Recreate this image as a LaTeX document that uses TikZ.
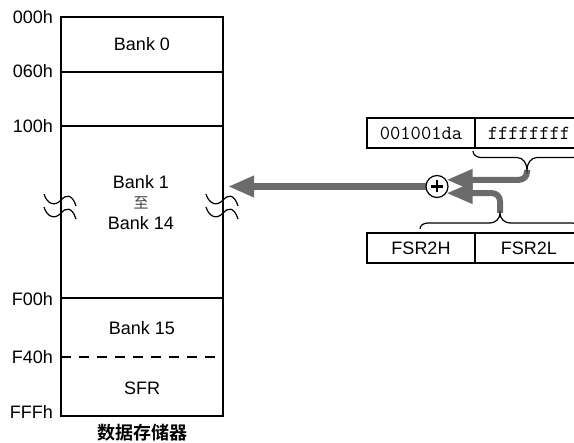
\documentclass[tikz,border=0pt]{standalone}
\usepackage{fontspec}
\setmainfont{Liberation Sans}
\newfontfamily\cjk{Noto Sans CJK SC}[BoldFont={Noto Sans CJK SC Bold}]
\usetikzlibrary{arrows.meta}
\pgfdeclarelayer{bg}
\pgfsetlayers{bg,main}
\definecolor{arrowgray}{RGB}{107,107,107}
\tikzset{
  memline/.style={line width=1.6pt},
  lbl/.style={anchor=east, inner sep=0pt, font=\fontsize{18}{20}\selectfont},
  banktext/.style={inner sep=0pt, font=\fontsize{18}{20}\selectfont},
  cell/.style={draw, line width=1.6pt, minimum width=108pt, minimum height=30pt, inner sep=0pt, font=\fontsize{18}{20}\selectfont},
  hexcell/.style={cell, font=\ttfamily\fontsize{20}{22}\selectfont},
  bracestyle/.style={line width=1.2pt},
  wave/.style={line width=1.2pt},
  grayarrow/.style={draw=arrowgray, line width=6pt, -{Triangle[length=26pt,width=20pt]}},
}
\begin{document}
\begin{tikzpicture}[x=1pt,y=-1pt]
\clip (0,0) rectangle (574,443);
% memory block
\node[draw, memline, minimum width=162pt, minimum height=399pt, inner sep=0pt] (mem) at (142,216.5) {};
\draw[memline] (61,72) -- (223,72);
\draw[memline] (61,126) -- (223,126);
\draw[memline] (61,298) -- (223,298);
\draw[memline, dash pattern=on 10pt off 8pt] (61,357) -- (223,357);
% address labels
\node[lbl] (a000) at (53,17) {000h};
\node[lbl] (a060) at (53,71) {060h};
\node[lbl] (a100) at (53,126) {100h};
\node[lbl] (af00) at (53,299) {F00h};
\node[lbl] (af40) at (53,357) {F40h};
\node[lbl] (afff) at (53,412) {FFFh};
% bank texts
\node[banktext] (b0) at (142,44) {Bank 0};
\node[banktext] (b1) at (141,182) {Bank 1};
\node[banktext, font=\cjk\fontsize{15}{17}\selectfont, text=black!75] (zhi) at (141,203) {至};
\node[banktext] (b14) at (141,223) {Bank 14};
\node[banktext] (b15) at (142,328) {Bank 15};
\node[banktext] (sfr) at (142,388) {SFR};
\node[inner sep=0pt, font=\cjk\bfseries\fontsize{18}{20}\selectfont] (title) at (142,433) {数据存储器};
% break marks
\foreach \dx in {0,162} {
  \foreach \dy in {0,13} {
    \draw[wave] (44+\dx,194+\dy) .. controls (47+\dx,204+\dy) and (55+\dx,207+\dy) .. (61+\dx,200+\dy)
      .. controls (65+\dx,195+\dy) and (72+\dx,193+\dy) .. (76+\dx,206+\dy);
  }
}
% registers
\node[hexcell] (h1) at (421,133) {001001da};
\node[hexcell] (h2) at (529,133) {ffffffff};
\node[cell] (fh) at (421,248) {FSR2H};
\node[cell] (fl) at (529,248) {FSR2L};
% braces
\coordinate (topcusp) at (527,170);
\coordinate (botcusp) at (500,213);
\draw[bracestyle] (473,151) to[out=-90,in=180] (481,157.5) -- (517,157.5) to[out=0,in=90] (topcusp)
  to[out=90,in=180] (537,157.5) -- (573,157.5) to[out=0,in=-90] (581,151);
\draw[bracestyle] (420,229) to[out=90,in=180] (428,223) -- (490,223) to[out=0,in=-90] (botcusp)
  to[out=-90,in=180] (510,223) -- (572,223) to[out=0,in=90] (580,229);
% adder
\node[draw, circle, fill=white, line width=1.2pt, minimum size=22pt, inner sep=0pt] (plus) at (437,186.5) {};
\draw[line width=2.6pt] ([xshift=-6pt]plus.center) -- ([xshift=6pt]plus.center);
\draw[line width=2.6pt] ([yshift=-6pt]plus.center) -- ([yshift=6pt]plus.center);
\coordinate (memtip) at (228,186.5);
\begin{pgfonlayer}{bg}
\draw[grayarrow, line width=7pt] (plus.center) -- (memtip);
\draw[grayarrow, rounded corners=8pt] (topcusp) -- (topcusp |- plus.35) -- (plus.35);
\draw[grayarrow, rounded corners=8pt] (botcusp) -- (botcusp |- plus.-35) -- (plus.-35);
\end{pgfonlayer}
\end{tikzpicture}
\end{document}
